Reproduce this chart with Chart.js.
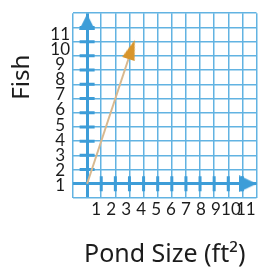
<!DOCTYPE html>
<html>
<head>
<meta charset="utf-8">
<script src="https://cdn.jsdelivr.net/npm/chart.js@4"></script>
<style>
  html, body { margin: 0; padding: 0; background: #fff; }
  canvas { display: block; }
</style>
</head>
<body>
<canvas id="chart" width="267" height="271"></canvas>
<script>
// ---------- data ----------
const GRID_MIN = -1;
const GRID_MAX = 12;
const TICK_VALUES = [1, 2, 3, 4, 5, 6, 7, 8, 9, 10, 11];
const LINE_X = [0, 3.15];          // orange ray, y = 3x
const LINE_Y = [0, 9.45];
const AXIS_END = 11.38;            // where the blue axis arrows sit
const X_TITLE = "Pond Size (ft²)";
const Y_TITLE = "Fish";

// ---------- style ----------
const BLUE = "#3d9dd8";
const GRID = "#62b3e2";
const ORANGE = "#d8952c";
const TAN = "#d9b98f";
const TEXT = "#1c1c1c";
const TICK_FONT = { family: "Lato", size: 17 };
const TITLE_FONT = { family: "Noto Sans", size: 25 };

// arrowheads drawn once, pointing up; Chart.js rotates them per point
function arrowHead(w, h, color) {
  const c = document.createElement("canvas");
  c.width = w;
  c.height = h;
  const g = c.getContext("2d");
  g.fillStyle = color;
  g.beginPath();
  g.moveTo(w / 2, 0);
  g.lineTo(w, h);
  g.lineTo(0, h);
  g.closePath();
  g.fill();
  return c;
}

const pts = (xs, ys) => xs.map((x, i) => ({ x, y: ys[i] }));
const rayAngle = Math.atan2(LINE_X[1], LINE_Y[1]) * 180 / Math.PI;

// "Fish" sits above the middle of the axis in the original
const yTitlePlugin = {
  id: "yTitle",
  afterDraw(chart) {
    const { ctx, chartArea } = chart;
    ctx.save();
    ctx.translate(chartArea.left - 51, chartArea.top + 64);
    ctx.rotate(-Math.PI / 2);
    ctx.font = `${TITLE_FONT.size - 1}px "${TITLE_FONT.family}"`;
    ctx.fillStyle = TEXT;
    ctx.textAlign = "center";
    ctx.textBaseline = "middle";
    ctx.fillText(Y_TITLE, 0, 0);
    ctx.restore();
  },
};

const gridScale = (axis) => ({
  type: "linear",
  axis,
  position: axis === "x" ? "bottom" : "left",
  min: GRID_MIN,
  max: GRID_MAX,
  weight: 0,
  ticks: { display: false, stepSize: 1 },
  grid: {
    color: (c) => (c.tick && c.tick.value === 0 ? BLUE : GRID),
    lineWidth: (c) => (c.tick && c.tick.value === 0 ? 3 : 1.5),
    drawTicks: false,
  },
  border: { display: false },
  afterFit: (s) => {
    if (axis === "x") s.height = 0;
    else s.width = 0;
  },
});

// printed numbers are spaced a little wider than the grid, so they get own scales
const labelScale = (axis, min, max) => ({
  type: "linear",
  axis,
  position: axis === "x" ? "bottom" : "left",
  min,
  max,
  weight: 1,
  grid: { display: false, drawTicks: false },
  border: { display: false },
  afterBuildTicks: (s) => {
    s.ticks = TICK_VALUES.map((v) => ({ value: v }));
  },
  ticks: {
    autoSkip: false,
    maxRotation: 0,
    minRotation: 0,
    color: TEXT,
    font: TICK_FONT,
    padding: axis === "x" ? 1 : 3,
    crossAlign: axis === "x" ? "near" : "center",
    callback: (v) => String(v),
  },
  title: axis === "x"
    ? { display: true, text: X_TITLE, color: TEXT, font: TITLE_FONT, padding: { top: 0, bottom: 1 } }
    : { display: false },
  afterFit: (s) => {
    if (axis === "x") s.height = 73;
    else s.width = 73;
  },
});

new Chart(document.getElementById("chart"), {
  type: "scatter",
  data: {
    datasets: [
      {
        // axis arrows
        data: [{ x: 0, y: AXIS_END }, { x: AXIS_END, y: 0 }],
        pointStyle: [arrowHead(16, 16, BLUE), arrowHead(17, 18, BLUE)],
        pointRotation: [0, 90],
        clip: false,
        xAxisID: "x", yAxisID: "y",
      },
      {
        // ray arrowhead
        data: [{ x: LINE_X[1], y: LINE_Y[1] }],
        pointStyle: arrowHead(13, 20, ORANGE),
        pointRotation: rayAngle,
        xAxisID: "x", yAxisID: "y",
      },
      {
        data: pts(LINE_X, LINE_Y),
        showLine: true,
        borderColor: TAN,
        borderWidth: 2,
        pointRadius: 0,
        xAxisID: "x", yAxisID: "y",
      },
      {
        // tick marks on the vertical axis
        data: TICK_VALUES.map((v) => ({ x: 0, y: v })),
        pointStyle: "line",
        pointRadius: 7.5,
        pointBorderWidth: 3,
        pointBorderColor: BLUE,
        xAxisID: "x", yAxisID: "y",
      },
      {
        // tick marks on the horizontal axis
        data: TICK_VALUES.map((v) => ({ x: v, y: 0 })),
        pointStyle: "line",
        pointRotation: 90,
        pointRadius: 7.5,
        pointBorderWidth: 3,
        pointBorderColor: BLUE,
        xAxisID: "x", yAxisID: "y",
      },
    ],
  },
  options: {
    responsive: false,
    animation: false,
    events: [],
    layout: { padding: { left: 0, right: 4, top: 8, bottom: 0 } },
    plugins: { legend: { display: false }, tooltip: { enabled: false } },
    scales: {
      x: gridScale("x"),
      y: gridScale("y"),
      xl: labelScale("x", -0.55, 11.71),
      yl: labelScale("y", 0.16, 12.42),
    },
  },
  plugins: [yTitlePlugin],
});
</script>
</body>
</html>
